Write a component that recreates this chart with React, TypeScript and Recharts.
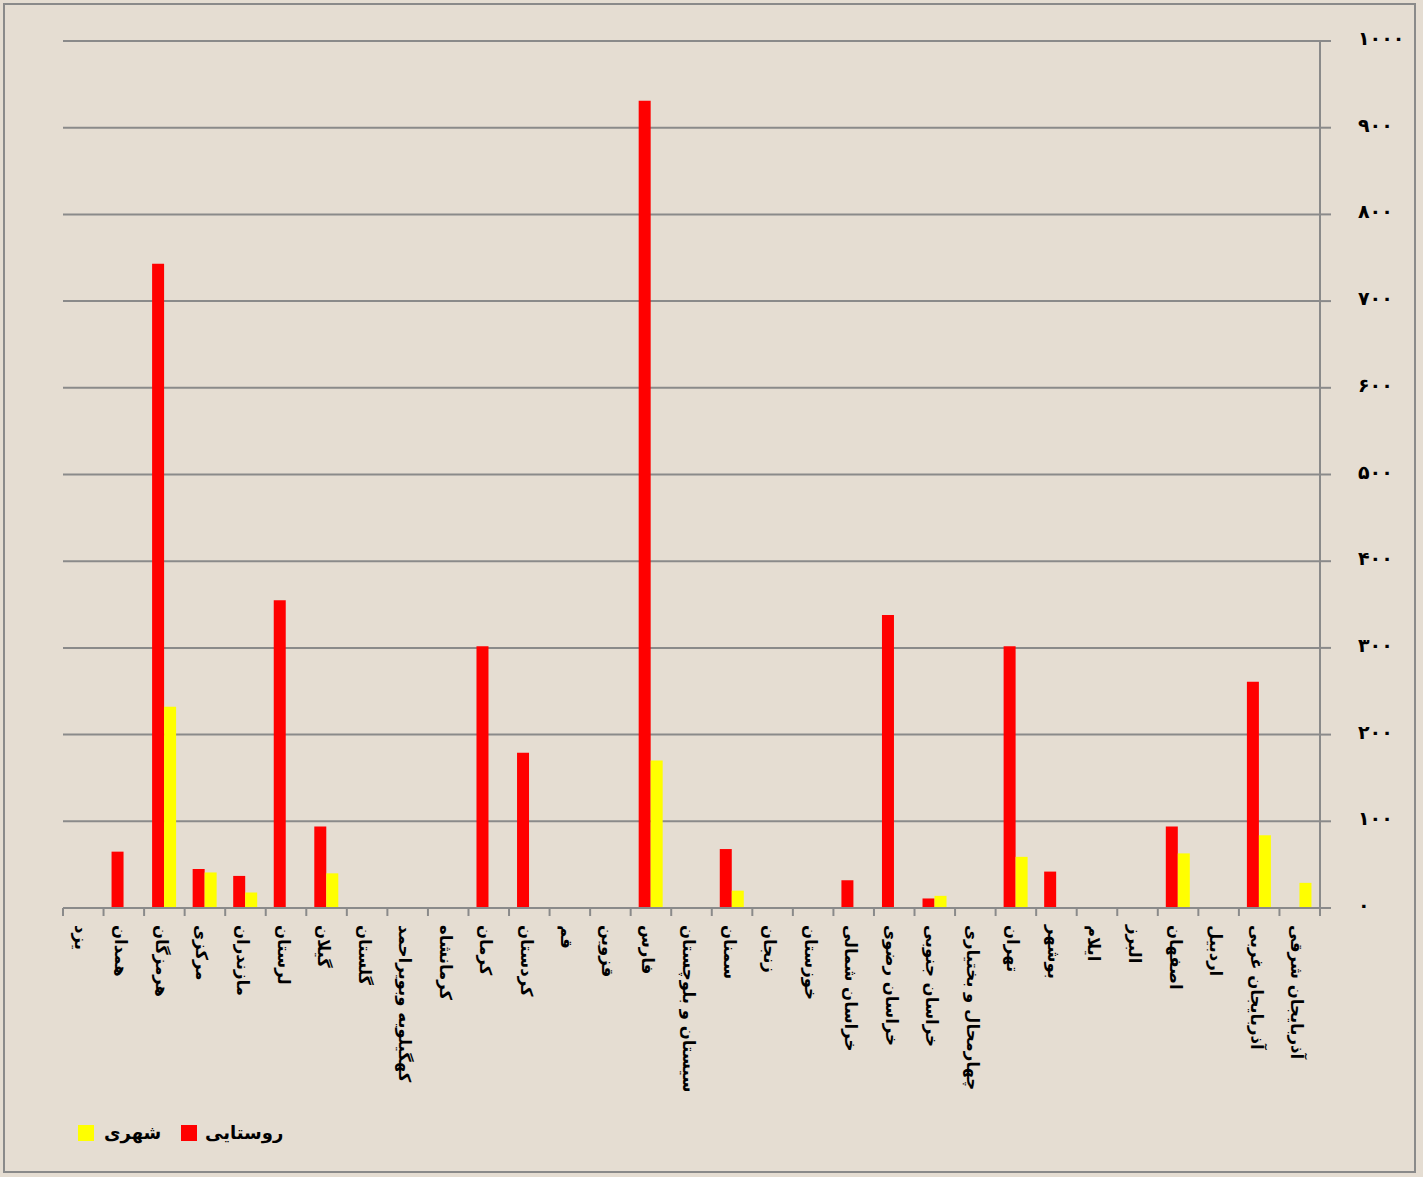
import React from 'react';
import { BarChart, Bar, XAxis, YAxis, CartesianGrid } from 'recharts';

const provinces = [
  'یزد', 'همدان', 'هرمزگان', 'مرکزی', 'مازندران', 'لرستان', 'گیلان', 'گلستان',
  'کهگیلویه وبویراحمد', 'کرمانشاه', 'کرمان', 'کردستان', 'قم', 'قزوین', 'فارس',
  'سیستان و بلوچستان', 'سمنان', 'زنجان', 'خوزستان', 'خراسان شمالی', 'خراسان رضوی',
  'خراسان جنوبی', 'چهارمحال و بختیاری', 'تهران', 'بوشهر', 'ایلام', 'البرز',
  'اصفهان', 'اردبیل', 'آذربایجان غربی', 'آذربایجان شرقی',
];
const rural = [0, 65, 743, 45, 37, 355, 94, 0, 0, 0, 302, 179, 0, 0, 931, 0, 68, 0, 0, 32, 338, 11, 0, 302, 42, 0, 0, 94, 0, 261, 0];
const urban = [0, 0, 232, 41, 18, 0, 40, 0, 0, 0, 0, 0, 0, 0, 170, 0, 20, 0, 0, 0, 0, 14, 0, 59, 0, 0, 0, 63, 0, 84, 29];
const yTicks = [0, 100, 200, 300, 400, 500, 600, 700, 800, 900, 1000];
const seriesNames = { rural: 'روستایی', urban: 'شهری' };
const seriesColors = { rural: '#ff0000', urban: '#ffff00' };

const data = provinces.map((p, i) => ({ name: p, rural: rural[i], urban: urban[i] }));

const W = 1423;
const H = 1177;
const PLOT_LEFT = 63;
const PLOT_RIGHT = 1320;
const PLOT_TOP = 41;
const PLOT_BOTTOM = 908;
const Y_AXIS_W = 60;
const X_AXIS_H = 200;
const HALF_BAND = (PLOT_RIGHT - PLOT_LEFT) / provinces.length / 2;
const FONT = '"DejaVu Sans", sans-serif';
const GRID = '#8a8a8a';

const toFa = (n: number) => String(n).replace(/\d/g, (d) => '۰۱۲۳۴۵۶۷۸۹'[Number(d)]);

const XTick = (props: any) => {
  const { x, y, payload, index } = props;
  const last = index === provinces.length - 1;
  return (
    <g>
      <line x1={x - HALF_BAND} x2={x - HALF_BAND} y1={y} y2={y + 8} stroke={GRID} strokeWidth={2} />
      {last && <line x1={x + HALF_BAND} x2={x + HALF_BAND} y1={y} y2={y + 8} stroke={GRID} strokeWidth={2} />}
      <text
        transform={`translate(${x - 3},${y + 17}) rotate(90)`}
        textAnchor="start"
        dominantBaseline="central"
        fontFamily={FONT}
        fontWeight="bold"
        fontSize={16.5}
        fill="#000"
      >
        {payload.value}
      </text>
    </g>
  );
};

const YTick = (props: any) => {
  const { x, y, payload } = props;
  return (
    <text x={x} y={y - 3} textAnchor="start" dominantBaseline="central" fontFamily={FONT} fontWeight="bold" fontSize={19} fill="#000">
      {toFa(payload.value)}
    </text>
  );
};

export default function App() {
  return (
    <div style={{ position: 'absolute', left: 0, top: 0, width: W, height: H, background: '#e5ddd2', overflow: 'hidden' }}>
      <div style={{ position: 'absolute', left: 3, top: 3, width: W - 10, height: H - 7, border: '2px solid #8a8a8a', boxSizing: 'border-box' }} />
      <BarChart
        width={W}
        height={H}
        data={data}
        barGap={0}
        barSize={12}
        margin={{ top: PLOT_TOP, left: PLOT_LEFT, right: W - PLOT_RIGHT - Y_AXIS_W, bottom: H - PLOT_BOTTOM - X_AXIS_H }}
        style={{ position: 'absolute', left: 0, top: 0 }}
      >
        <CartesianGrid horizontal vertical={false} stroke={GRID} strokeWidth={2} />
        <XAxis
          dataKey="name"
          interval={0}
          height={X_AXIS_H}
          tickLine={false}
          tickSize={0}
          tickMargin={0}
          axisLine={{ stroke: GRID, strokeWidth: 2 }}
          tick={<XTick />}
        />
        <YAxis
          orientation="right"
          width={Y_AXIS_W}
          domain={[0, 1000]}
          ticks={yTicks}
          interval={0}
          tickSize={11}
          tickMargin={27}
          tickLine={{ stroke: GRID, strokeWidth: 2 }}
          axisLine={{ stroke: GRID, strokeWidth: 2 }}
          tick={<YTick />}
        />
        <Bar dataKey="rural" name={seriesNames.rural} fill={seriesColors.rural} isAnimationActive={false} />
        <Bar dataKey="urban" name={seriesNames.urban} fill={seriesColors.urban} isAnimationActive={false} />
      </BarChart>
      <div style={{ position: 'absolute', left: 78, top: 1122, display: 'flex', alignItems: 'center', fontFamily: FONT, fontWeight: 'bold', fontSize: 18, color: '#000' }}>
        <span style={{ width: 16, height: 16, background: seriesColors.urban, display: 'inline-block' }} />
        <span style={{ marginLeft: 10, width: 77 }}>{seriesNames.urban}</span>
        <span style={{ width: 16, height: 16, background: seriesColors.rural, display: 'inline-block' }} />
        <span style={{ marginLeft: 8 }}>{seriesNames.rural}</span>
      </div>
    </div>
  );
}
